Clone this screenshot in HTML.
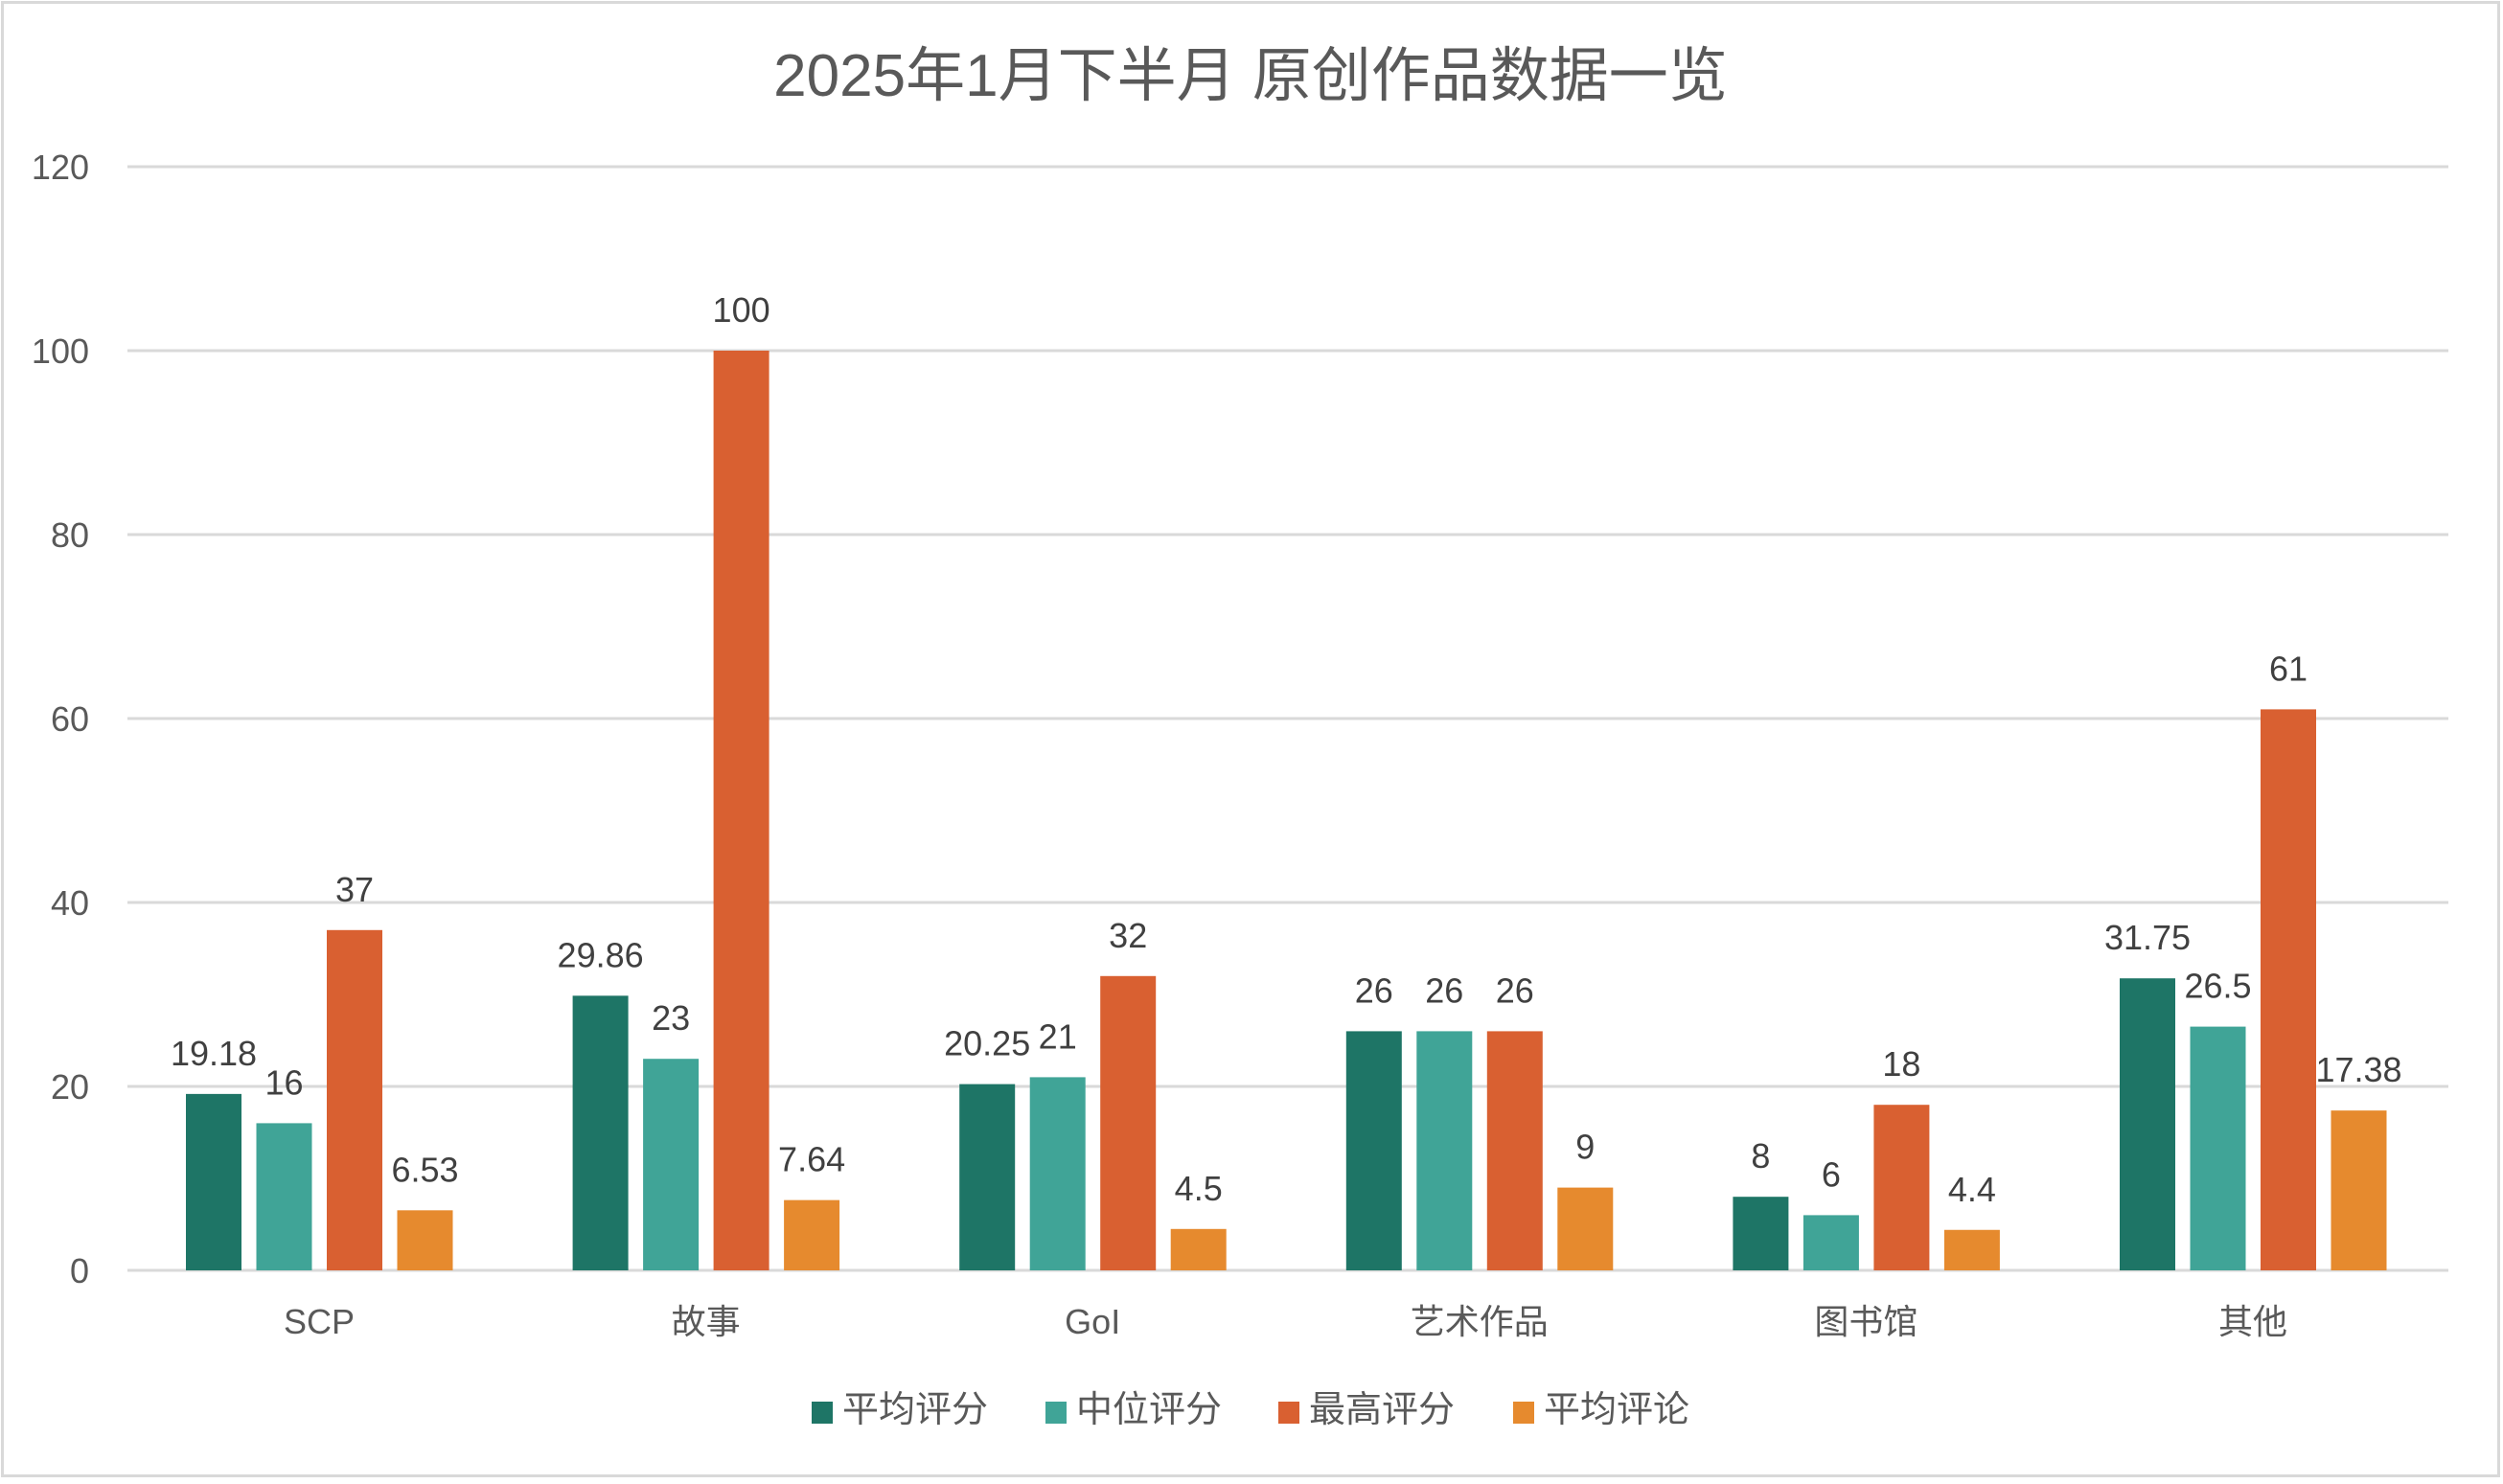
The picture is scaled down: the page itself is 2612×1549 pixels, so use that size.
<!DOCTYPE html>
<html><head><meta charset="utf-8"><style>
html,body{margin:0;padding:0;background:#fff;}
svg{display:block;}
text{font-family:"Liberation Sans","Noto Sans CJK SC",sans-serif;}
</style></head><body>
<svg width="2612" height="1549" viewBox="0 0 2612 1549" xmlns="http://www.w3.org/2000/svg">
<rect x="2.5" y="2.5" width="2605" height="1538" fill="#fff" stroke="#d9d9d9" stroke-width="3"/>
<text x="1305" y="100" font-size="62" fill="#595959" text-anchor="middle">2025年1月下半月 原创作品数据一览</text>
<g stroke="#d9d9d9" stroke-width="3">
<line x1="133" x2="2555" y1="174" y2="174"/>
<line x1="133" x2="2555" y1="366" y2="366"/>
<line x1="133" x2="2555" y1="558" y2="558"/>
<line x1="133" x2="2555" y1="750" y2="750"/>
<line x1="133" x2="2555" y1="942" y2="942"/>
<line x1="133" x2="2555" y1="1134" y2="1134"/>
<line x1="133" x2="2555" y1="1326" y2="1326"/>
</g>
<g font-size="36" fill="#595959" text-anchor="end">
<text x="93" y="187">120</text><text x="93" y="379">100</text><text x="93" y="571">80</text>
<text x="93" y="763">60</text><text x="93" y="955">40</text><text x="93" y="1147">20</text><text x="93" y="1339">0</text>
</g>
<g id="bars"></g>
<g font-size="36" fill="#595959" text-anchor="middle" id="cats"></g>
<g font-size="36" fill="#404040" text-anchor="middle" id="lbls"></g>
<g font-size="38" fill="#595959">
<rect x="847" y="1463" width="22" height="23" fill="#1E7566"/><text x="879" y="1484">平均评分</text>
<rect x="1091" y="1463" width="22" height="23" fill="#40A497"/><text x="1123" y="1484">中位评分</text>
<rect x="1334" y="1463" width="22" height="23" fill="#D96031"/><text x="1366" y="1484">最高评分</text>
<rect x="1579" y="1463" width="22" height="23" fill="#E68A2E"/><text x="1611" y="1484">平均评论</text>
</g>
<script>
var data=[["SCP",19.18,16,37,6.53],["故事",29.86,23,100,7.64],["GoI",20.25,21,32,4.5],["艺术作品",26,26,26,9],["图书馆",8,6,18,4.4],["其他",31.75,26.5,61,17.38]];
var cols=["#1E7566","#40A497","#D96031","#E68A2E"];
var ns="http://www.w3.org/2000/svg";
var B=document.getElementById("bars"),C=document.getElementById("cats"),L=document.getElementById("lbls");
data.forEach(function(d,i){
 var cx=131+403.6*i+202;
 var t=document.createElementNS(ns,"text");t.setAttribute("x",cx);t.setAttribute("y",1392);t.textContent=d[0];C.appendChild(t);
 for(var k=0;k<4;k++){
  var v=d[k+1],x=cx-139+k*73.5,h=v*9.6,top=1326-h;
  var r=document.createElementNS(ns,"rect");r.setAttribute("x",x);r.setAttribute("y",top);r.setAttribute("width",58);r.setAttribute("height",h);r.setAttribute("fill",cols[k]);B.appendChild(r);
  var l=document.createElementNS(ns,"text");l.setAttribute("x",x+29);l.setAttribute("y",top-30);l.textContent=String(v);L.appendChild(l);
 }
});
</script>
</svg>
</body></html>
